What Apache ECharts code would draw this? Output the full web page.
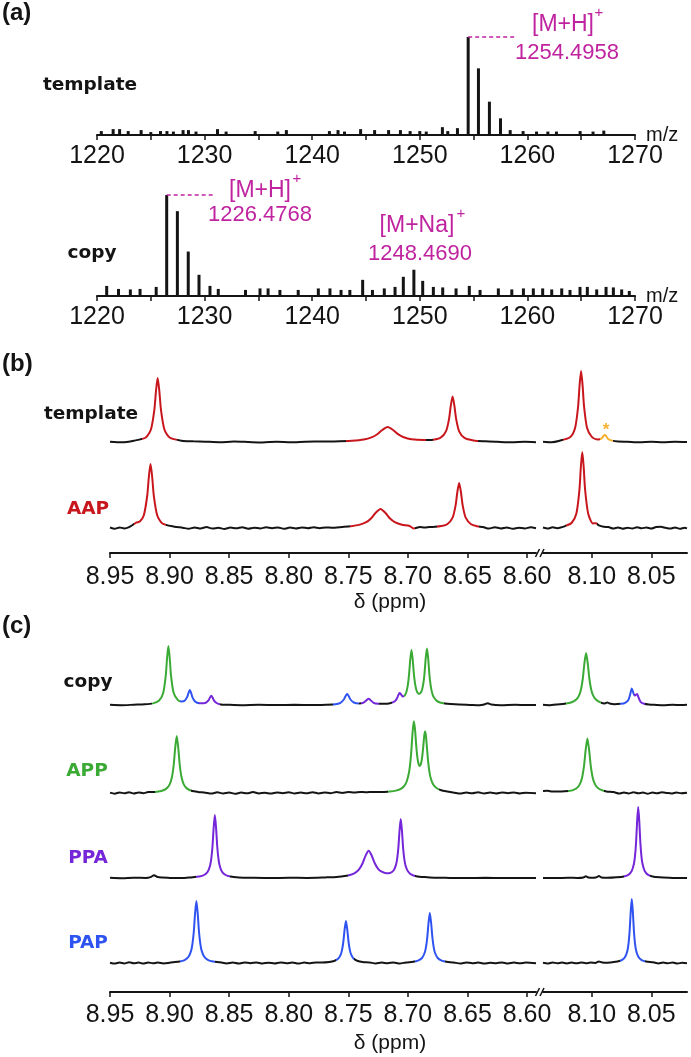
<!DOCTYPE html>
<html><head><meta charset="utf-8">
<script src="https://cdn.jsdelivr.net/npm/echarts@6.0.0/dist/echarts.min.js"></script>
<style>html,body{margin:0;padding:0;background:#fff}#c{width:691px;height:1057px}</style>
</head><body><div id="c"></div>
<script>
// ---------------- DATA ----------------
// (a) mass spectra: [m/z, relative intensity]
const msTickLabels = [1220, 1230, 1240, 1250, 1260, 1270];
const msTickValues = [1220, 1225, 1230, 1235, 1240, 1245, 1250, 1255, 1260, 1265, 1270];
const templateMS = [[1220.4,4],[1221.5,6],[1222.1,6],[1222.9,4],[1224.1,5],[1225.0,3],[1225.9,4],[1226.5,4],[1227.1,3.5],[1228.0,5],[1228.5,5],[1229.2,3.5],[1231.2,6],[1232.0,3.5],[1234.7,4],[1236.8,3.5],[1237.6,5],[1241.6,4],[1242.4,5],[1243.0,3.5],[1244.5,6],[1245.8,5],[1247.1,5],[1248.2,5],[1249.1,4],[1250.0,4],[1250.6,3.5],[1252.1,8],[1252.6,4],[1253.5,7],[1254.4958,100],[1255.45,68],[1256.47,34],[1257.5,17],[1258.4,5],[1259.6,4],[1260.85,3.5],[1261.9,3.5],[1262.7,3.5],[1264.9,4],[1266.1,3.5],[1267.1,4.5]];
const copyMS = [[1220.9,10],[1222.0,7],[1223.1,6.5],[1224.0,7],[1225.5,9],[1226.4768,100],[1227.47,84],[1228.48,44],[1229.48,21],[1230.5,10],[1231.27,7],[1233.8,6],[1235.15,7.5],[1235.9,7.5],[1237.0,6],[1238.7,6],[1240.57,7.5],[1241.65,7.5],[1242.68,6],[1243.5,6],[1244.69,16],[1245.6,6],[1246.7,7.5],[1247.7,9],[1248.469,19],[1249.45,26],[1250.27,15],[1251.26,9],[1252.13,8.5],[1253.37,7.5],[1254.6,10],[1255.6,6],[1257.3,7.5],[1258.55,6.5],[1259.63,7.5],[1260.55,7.5],[1261.42,7.5],[1262.26,6.5],[1263.19,7.5],[1263.96,6],[1264.89,9],[1265.57,9],[1266.44,6.5],[1267.31,9],[1267.99,8.5],[1268.76,6.5],[1269.47,5]];
const templateMSPeak = [1254.4958, 100];
const copyMSPeak = [1226.4768, 100];

// (b),(c) NMR: ticks and traces [ppm, intensity]
const nmrTicksLeft = [8.95, 8.90, 8.85, 8.80, 8.75, 8.70, 8.65, 8.60];
const nmrTicksRight = [8.10, 8.05];

const templateB = [[8.950,0.3],[8.940,-0.3],[8.930,1.3],[8.920,4.5],[8.9156,12.8],[8.9128,32],[8.9114,51],[8.910,64],[8.9086,51],[8.9072,32],[8.9044,12.8],[8.900,4.5],[8.890,1.3],[8.880,0.7],[8.870,0.3],[8.858,-0.2],[8.846,0.4],[8.834,0],[8.822,-0.4],[8.810,0.2],[8.798,-0.3],[8.786,0.3],[8.774,0.4],[8.762,0.6],[8.747,1.3],[8.737,2.5],[8.730,4.9],[8.726,7.5],[8.7215,12],[8.717,15],[8.7125,12],[8.708,7.6],[8.704,5.0],[8.697,2.7],[8.687,1.9],[8.680,2.1],[8.6725,4.3],[8.668,10.8],[8.6655,22.9],[8.664,36.4],[8.6625,45.4],[8.661,36.4],[8.6595,22.9],[8.657,10.7],[8.6525,4.1],[8.645,1.6],[8.635,0.7],[8.625,0.2],[8.613,-0.3],[8.602,0.2],[8.5925,-0.2],
[8.141,0.3],[8.134,-0.2],[8.127,1.3],[8.118,5.1],[8.114,14.2],[8.1115,35.5],[8.11025,56.8],[8.109,71],[8.10775,56.8],[8.1065,35.5],[8.104,14.2],[8.100,5.1],[8.095,2.6],[8.092,3.3],[8.090,6.3],[8.089,7.1],[8.088,6.1],[8.086,2.8],[8.083,1.4],[8.078,0.5],[8.070,0.2],[8.060,-0.3],[8.050,0.2],[8.040,-0.2],[8.030,0.3],[8.020,0]];
const templateBColors = [[8.923,8.894,'red'],[8.752,8.685,'red'],[8.679,8.641,'red'],[8.124,8.093,'red'],[8.093,8.082,'orange']];

const aapB = [[8.950,0.5],[8.946,-0.8],[8.942,0.6],[8.938,-0.4],[8.934,0.9],[8.930,3.8],[8.928,5.3],[8.925,6.5],[8.9216,12.8],[8.9188,32],[8.9174,51],[8.916,64],[8.9146,51],[8.9132,32],[8.9104,12.8],[8.906,4.5],[8.896,1.3],[8.889,0.3],[8.884,-0.8],[8.879,0.6],[8.874,-0.5],[8.869,0.9],[8.864,-0.6],[8.859,0.2],[8.854,-1.0],[8.849,0.5],[8.844,-0.3],[8.839,0.8],[8.834,-0.7],[8.829,0.3],[8.824,-0.5],[8.819,0.7],[8.814,-0.2],[8.809,0.5],[8.804,-0.8],[8.799,0.4],[8.794,-0.4],[8.789,0.6],[8.784,-0.3],[8.779,0.7],[8.774,-0.2],[8.769,0.5],[8.764,0.3],[8.755,1.1],[8.748,1.8],[8.741,3.1],[8.735,5.8],[8.731,9.5],[8.727,15.2],[8.723,19],[8.719,15.2],[8.715,9.5],[8.711,5.9],[8.705,3.3],[8.699,2.2],[8.695,-0.5],[8.690,1.0],[8.686,0.4],[8.682,1.0],[8.677,1.2],[8.672,1.9],[8.667,3.7],[8.6625,10.3],[8.660,22.5],[8.6585,36],[8.657,45],[8.6555,36],[8.654,22.5],[8.6515,10.3],[8.647,3.7],[8.642,1.7],[8.637,1.0],[8.632,-0.6],[8.627,0.8],[8.622,-0.4],[8.617,0.6],[8.612,-0.8],[8.607,0.3],[8.602,-0.5],[8.597,0.7],[8.5925,-0.2],
[8.141,0.5],[8.137,-0.6],[8.133,0.7],[8.129,-0.2],[8.125,0.9],[8.122,2.2],[8.117,5.0],[8.113,14.2],[8.1104,38],[8.1092,60.8],[8.108,76],[8.1068,60.8],[8.1056,38],[8.103,14.2],[8.099,4.6],[8.0965,4.8],[8.094,2.6],[8.090,1.3],[8.086,0.9],[8.082,-0.5],[8.078,0.6],[8.074,-0.7],[8.070,0.3],[8.066,-0.5],[8.062,0.8],[8.058,-0.3],[8.054,0.6],[8.050,-0.6],[8.046,0.9],[8.042,1.2],[8.038,0.2],[8.034,-0.5],[8.030,0.6],[8.026,-0.8],[8.022,0.3],[8.020,-0.4]];
const aapBColors = [[8.930,8.903,'red'],[8.749,8.694,'red'],[8.676,8.640,'red'],[8.122,8.096,'red']];

const copyC = [[8.950,0.2],[8.940,-0.2],[8.930,0.3],[8.921,0.7],[8.914,1.6],[8.909,4.2],[8.9054,11.8],[8.9032,29.5],[8.9021,47.2],[8.901,59],[8.8999,47.2],[8.8988,29.5],[8.8966,12.2],[8.893,4.9],[8.890,3.6],[8.8874,4.3],[8.8852,8.1],[8.8841,12.2],[8.883,14.9],[8.8819,12.0],[8.8808,7.7],[8.8786,3.6],[8.875,1.8],[8.8714,1.7],[8.8694,2.3],[8.8672,4.8],[8.8661,7.5],[8.865,9.2],[8.8639,7.4],[8.8628,4.7],[8.8606,2.0],[8.857,0.6],[8.852,0.3],[8.840,-0.2],[8.825,0.2],[8.810,-0.1],[8.795,0.2],[8.780,0.0],[8.769,0.3],[8.761,0.8],[8.7566,2.2],[8.7538,5.5],[8.7524,8.8],[8.751,11],[8.7496,8.8],[8.7482,5.5],[8.7454,2.5],[8.741,1.5],[8.7372,2.3],[8.7344,5.1],[8.733,6.3],[8.7316,5.1],[8.7288,2.2],[8.725,1.3],[8.720,1.2],[8.715,1.8],[8.711,3.8],[8.709,7.1],[8.708,10.0],[8.707,11.9],[8.706,11.0],[8.705,9.2],[8.704,8.6],[8.703,9.1],[8.702,10.9],[8.701,14.3],[8.700,20.4],[8.699,30.8],[8.698,45.7],[8.697,54.9],[8.696,46.0],[8.695,31.4],[8.694,21.3],[8.693,15.6],[8.692,12.6],[8.691,11.3],[8.690,11.4],[8.689,12.7],[8.688,15.8],[8.687,21.8],[8.686,32.2],[8.685,47.4],[8.684,56.5],[8.683,46.9],[8.682,31.2],[8.681,20.3],[8.680,13.6],[8.679,9.6],[8.678,7.2],[8.676,4.4],[8.673,2.5],[8.669,1.5],[8.664,0.9],[8.657,0.4],[8.648,0.1],[8.640,-0.2],[8.636,0.5],[8.633,1.8],[8.630,0.4],[8.622,-0.2],[8.610,0.2],[8.600,-0.1],[8.5925,0.1],
[8.141,0.2],[8.135,-0.2],[8.130,0.6],[8.1228,1.25],[8.1168,2.7],[8.1128,5.7],[8.1104,10.4],[8.109,16],[8.1076,26],[8.1062,41.6],[8.1048,52],[8.1034,41.6],[8.102,26],[8.1006,16],[8.0992,10.4],[8.0968,5.7],[8.0928,2.7],[8.089,1.6],[8.087,2.6],[8.085,1.5],[8.081,0.8],[8.0754,1.2],[8.0724,1.9],[8.0694,4.8],[8.0679,9.9],[8.0664,16.6],[8.0649,11.4],[8.0639,9.4],[8.0629,10.3],[8.062,11.1],[8.061,8.4],[8.059,3.2],[8.056,1.2],[8.052,0.5],[8.046,0.1],[8.040,-0.2],[8.032,0.2],[8.025,-0.1],[8.020,0.2]];
const copyCColors = [[8.915,8.891,'green'],[8.891,8.875,'blue'],[8.875,8.858,'purple'],[8.763,8.741,'blue'],[8.739,8.724,'purple'],[8.713,8.7035,'purple'],[8.7035,8.670,'green'],[8.122,8.092,'green'],[8.076,8.0642,'blue'],[8.0642,8.055,'purple']];

const appC = [[8.950,0.4],[8.946,-0.7],[8.942,0.6],[8.938,-0.3],[8.934,0.8],[8.930,-0.5],[8.926,0.5],[8.922,-0.2],[8.918,1.0],[8.912,1.1],[8.907,2.0],[8.903,4.1],[8.900,8.4],[8.898,16],[8.8965,28.5],[8.89525,45.6],[8.894,57],[8.89275,45.6],[8.8915,28.5],[8.890,16],[8.888,8.4],[8.885,4.1],[8.881,2.0],[8.876,1.1],[8.870,0.3],[8.865,-0.6],[8.860,0.7],[8.855,-0.4],[8.850,0.5],[8.845,-0.8],[8.840,0.4],[8.835,-0.3],[8.830,0.9],[8.825,-0.5],[8.820,0.3],[8.815,-0.6],[8.810,0.6],[8.805,-0.2],[8.800,0.7],[8.795,-0.5],[8.790,0.4],[8.785,-0.3],[8.780,0.8],[8.775,-0.4],[8.770,0.5],[8.765,-0.2],[8.760,0.9],[8.755,0.1],[8.750,1.0],[8.745,0.4],[8.740,1.1],[8.735,0.7],[8.730,1.1],[8.725,0.9],[8.720,1.0],[8.715,1.4],[8.710,2.4],[8.706,4.1],[8.703,7.2],[8.701,11.5],[8.699,21.0],[8.698,30.1],[8.697,44.1],[8.696,61.7],[8.695,71.7],[8.694,63.1],[8.693,47.2],[8.692,35.2],[8.691,28.9],[8.690,27.0],[8.689,29.4],[8.688,36.2],[8.687,47.9],[8.6862,58.0],[8.6855,61.4],[8.6848,56.7],[8.684,45.2],[8.683,31.3],[8.682,21.7],[8.681,15.5],[8.679,8.9],[8.676,5.0],[8.672,2.7],[8.667,1.5],[8.661,0.3],[8.656,-0.6],[8.651,0.5],[8.646,-0.3],[8.641,0.7],[8.636,-0.5],[8.631,0.4],[8.626,-0.4],[8.621,0.6],[8.616,-0.2],[8.611,0.5],[8.606,-0.5],[8.601,0.3],[8.5925,-0.2],
[8.141,2.0],[8.137,2.2],[8.133,1.5],[8.129,1.6],[8.1257,1.5],[8.1197,1.9],[8.1157,2.8],[8.1117,5.9],[8.1093,10.9],[8.1079,16.8],[8.1065,27.3],[8.1051,43.6],[8.1037,54.5],[8.1023,43.6],[8.1009,27.3],[8.0995,16.8],[8.0981,10.9],[8.0957,5.9],[8.0917,2.8],[8.0877,1.6],[8.0817,0.9],[8.077,-0.6],[8.073,0.5],[8.069,-0.4],[8.065,0.7],[8.061,-0.3],[8.057,0.5],[8.053,-0.7],[8.049,0.4],[8.045,-0.2],[8.041,0.8],[8.037,0.1],[8.033,-0.5],[8.029,0.6],[8.025,-0.3],[8.020,0.2]];
const appCColors = [[8.912,8.882,'green'],[8.717,8.674,'green'],[8.1197,8.0897,'green']];

const ppaC = [[8.950,0.2],[8.940,-0.2],[8.930,0.3],[8.920,0.1],[8.916,0.9],[8.913,2.8],[8.910,0.9],[8.900,0.1],[8.890,-0.1],[8.882,0.6],[8.875,1.4],[8.871,3.0],[8.868,6.3],[8.866,12.6],[8.865,19.4],[8.864,31.5],[8.863,50.4],[8.862,63],[8.861,50.4],[8.860,31.5],[8.859,19.4],[8.858,12.6],[8.856,6.3],[8.853,3.0],[8.849,1.4],[8.842,0.6],[8.830,0.2],[8.815,-0.1],[8.800,0.2],[8.785,0.1],[8.772,0.4],[8.768,0.65],[8.760,1.1],[8.753,1.9],[8.748,3.2],[8.744,5.4],[8.741,8.6],[8.738,14.8],[8.7355,22.4],[8.733,27.3],[8.7305,22.8],[8.728,15.3],[8.725,9.2],[8.722,6.3],[8.718,4.8],[8.715,5.0],[8.712,7.5],[8.710,13.1],[8.709,19.3],[8.708,30.3],[8.707,47.6],[8.706,59.1],[8.705,47.4],[8.704,29.9],[8.703,18.8],[8.702,12.5],[8.700,6.7],[8.697,3.3],[8.693,1.8],[8.686,0.9],[8.678,0.3],[8.665,0.1],[8.650,-0.1],[8.635,0.2],[8.620,0.0],[8.605,0.1],[8.5925,0.0],
[8.141,0.1],[8.130,-0.1],[8.120,0.2],[8.112,0.1],[8.107,0.6],[8.105,1.8],[8.103,0.6],[8.098,0.3],[8.096,0.7],[8.094,1.9],[8.092,0.6],[8.087,0.2],[8.079,0.7],[8.073,1.6],[8.069,3.4],[8.0664,7.1],[8.0646,14.2],[8.0637,21.9],[8.0628,35.5],[8.0619,56.8],[8.061,71],[8.0601,56.8],[8.0592,35.5],[8.0583,21.9],[8.0574,14.2],[8.0556,7.1],[8.053,3.4],[8.049,1.6],[8.043,0.7],[8.035,0.2],[8.027,-0.1],[8.020,0.1]];
const ppaCColors = [[8.878,8.849,'purple'],[8.750,8.694,'purple'],[8.073,8.051,'purple']];

const papC = [[8.950,0.3],[8.946,-0.6],[8.942,0.5],[8.938,-0.4],[8.934,0.7],[8.930,-0.3],[8.926,0.4],[8.922,-0.6],[8.918,0.5],[8.914,-0.3],[8.910,0.4],[8.905,-0.4],[8.900,0.3],[8.8975,0.7],[8.8915,1.5],[8.8874,2.9],[8.8841,6.2],[8.8819,12.4],[8.8808,19.1],[8.8797,31],[8.8786,49.6],[8.8775,62],[8.8764,49.6],[8.8753,31],[8.8742,19.1],[8.8731,12.4],[8.8709,6.2],[8.8676,2.9],[8.8635,1.5],[8.8575,0.7],[8.852,-0.5],[8.847,0.4],[8.842,-0.6],[8.837,0.5],[8.832,-0.2],[8.827,0.6],[8.822,-0.5],[8.817,0.3],[8.812,-0.4],[8.807,0.6],[8.802,-0.3],[8.797,0.5],[8.792,-0.6],[8.787,0.4],[8.782,-0.2],[8.777,0.5],[8.772,0.5],[8.766,1.0],[8.7619,2.0],[8.7586,4.2],[8.7564,8.4],[8.7553,12.9],[8.7542,21],[8.7531,33.6],[8.752,42],[8.7509,33.6],[8.7498,21],[8.7487,12.9],[8.7476,8.4],[8.7454,4.2],[8.7421,2.0],[8.738,1.0],[8.732,0.5],[8.727,-0.4],[8.722,0.5],[8.717,-0.3],[8.712,0.6],[8.707,-0.5],[8.7016,0.6],[8.6956,1.2],[8.6915,2.4],[8.6882,5.0],[8.686,10],[8.6849,15.4],[8.6838,25],[8.6827,40],[8.6816,50],[8.6805,40],[8.6794,25],[8.6783,15.4],[8.6772,10],[8.675,5.0],[8.6717,2.4],[8.6676,1.2],[8.6616,0.6],[8.656,-0.5],[8.651,0.6],[8.646,-0.3],[8.641,0.5],[8.636,-0.6],[8.631,0.3],[8.626,-0.2],[8.621,0.6],[8.616,-0.5],[8.611,0.4],[8.606,-0.3],[8.601,0.5],[8.5925,-0.2],
[8.141,0.3],[8.137,-0.5],[8.133,0.6],[8.129,-0.3],[8.125,0.5],[8.121,-0.4],[8.117,0.4],[8.113,-0.3],[8.109,0.5],[8.105,-0.2],[8.101,0.4],[8.097,0.1],[8.094,1.6],[8.092,0.8],[8.088,0.2],[8.084,0.6],[8.0784,1.4],[8.0744,3.1],[8.0718,6.4],[8.070,12.8],[8.0691,19.7],[8.0682,32],[8.0673,51.2],[8.0664,64],[8.0655,51.2],[8.0646,32],[8.0637,19.7],[8.0628,12.8],[8.061,6.4],[8.0584,3.1],[8.0544,1.4],[8.0484,0.7],[8.044,-0.4],[8.040,0.5],[8.036,-0.3],[8.032,0.6],[8.028,-0.5],[8.024,0.3],[8.020,-0.2]];
const papCColors = [[8.891,8.862,'blue'],[8.760,8.745,'blue'],[8.694,8.669,'blue'],[8.076,8.055,'blue']];

// ---------------- STYLE / LAYOUT ----------------
const INK = '#141414';
const MAGENTA = '#c0239f';
const COLORS = {red:'#c8161d', green:'#3aaa35', purple:'#7426d8', blue:'#2f53f0', orange:'#f6b12e'};
const TICK_FONT = "'Liberation Sans',Arial,sans-serif";
const LABEL_FONT = "'DejaVu Sans',sans-serif";

const grids = [], xAxes = [], yAxes = [], series = [], visualMaps = [], graphics = [];
function addGrid(g, x, y) {
  g.containLabel = false; g.outerBoundsMode = 'none';
  grids.push(g);
  const i = grids.length - 1;
  x.gridIndex = i; y.gridIndex = i;
  xAxes.push(x); yAxes.push(y);
  return i;
}

// ---- (a) mass spectra ----
function msXAxis() {
  return {
    type: 'value', min: 1220, max: 1270, interval: 5,
    name: 'm/z', nameLocation: 'end', nameGap: 11, nameMoveOverlap: false,
    nameTextStyle: {fontSize: 20, color: INK, fontFamily: "'Liberation Sans',Arial", verticalAlign: 'middle', align: 'left'},
    axisLine: {show: true, onZero: false, lineStyle: {color: INK, width: 2}},
    axisTick: {show: true, inside: false, length: 5, customValues: msTickValues, lineStyle: {color: INK, width: 1.5}},
    axisLabel: {show: true, customValues: msTickLabels, formatter: function (v) { return String(v); },
      fontSize: 25, margin: 9, color: INK, fontFamily: TICK_FONT, hideOverlap: false},
    splitLine: {show: false}, minorTick: {show: false}
  };
}
function msPanel(data, peak, top, height, dashEnd) {
  const gi = addGrid({left: 97, width: 538, top: top, height: height}, msXAxis(),
    {type: 'value', min: 0, max: 100, show: false});
  series.push({
    type: 'bar', xAxisIndex: gi, yAxisIndex: gi, data: data, barWidth: 3,
    itemStyle: {color: INK}, silent: true, animation: false,
    markLine: {
      silent: true, symbol: ['none', 'none'], animation: false,
      label: {show: false},
      lineStyle: {type: [4, 3], color: MAGENTA, width: 1.5},
      data: [[{coord: [peak[0], peak[1]]}, {coord: [dashEnd, peak[1]]}]]
    }
  });
}
msPanel(templateMS, templateMSPeak, 37, 98, 1258.85);
msPanel(copyMS, copyMSPeak, 195, 101, 1230.8);

// ---- (b), (c) NMR ----
const SIDES = [
  {left: 110, width: 426, min: 8.5925, max: 8.95, ticks: nmrTicksLeft},
  {left: 543, width: 144, min: 8.02, max: 8.141, ticks: nmrTicksRight}
];
const TOPROOM = 90;
function nmrPanel(traces, axisY, labelMargin) {
  traces.forEach(function (tr, k) {
    const isBottom = k === traces.length - 1;
    const D = isBottom ? axisY - tr.base : 12;
    SIDES.forEach(function (s) {
      const gi = addGrid({left: s.left, width: s.width, top: tr.base - TOPROOM, height: TOPROOM + D}, {
        type: 'value', min: s.min, max: s.max, inverse: true, show: isBottom,
        axisLine: {show: true, onZero: false, lineStyle: {color: INK, width: 2}},
        axisTick: {show: true, inside: false, length: 5, customValues: s.ticks, lineStyle: {color: INK, width: 1.5}},
        axisLabel: {show: true, customValues: s.ticks, formatter: function (v) { return v.toFixed(2); },
          fontSize: 25, margin: labelMargin, color: INK, fontFamily: TICK_FONT, hideOverlap: false},
        splitLine: {show: false}
      }, {type: 'value', min: -D, max: TOPROOM, show: false});
      const pts = tr.data.filter(function (p) { return p[0] >= s.min - 1e-9 && p[0] <= s.max + 1e-9; })
        .slice().sort(function (a, b) { return b[0] - a[0]; });
      const si = series.length;
      series.push({
        type: 'line', xAxisIndex: gi, yAxisIndex: gi, data: pts, showSymbol: false, symbol: 'none',
        smooth: 0.25, color: INK, lineStyle: {width: 2}, silent: true, animation: false
      });
      const pieces = tr.colors.filter(function (c) {
        const lo = Math.min(c[0], c[1]), hi = Math.max(c[0], c[1]);
        return hi >= s.min && lo <= s.max;
      }).map(function (c) {
        return {gte: Math.min(c[0], c[1]), lte: Math.max(c[0], c[1]), color: COLORS[c[2]]};
      }).sort(function (a, b) { return a.gte - b.gte; });
      if (pieces.length) {
        visualMaps.push({type: 'piecewise', show: false, dimension: 0, seriesIndex: si,
          pieces: pieces, outOfRange: {color: INK}});
      }
    });
  });
}
nmrPanel([
  {data: templateB, colors: templateBColors, base: 442},
  {data: aapB, colors: aapBColors, base: 528}
], 553, 12);
nmrPanel([
  {data: copyC, colors: copyCColors, base: 705},
  {data: appC, colors: appCColors, base: 793},
  {data: ppaC, colors: ppaCColors, base: 878},
  {data: papC, colors: papCColors, base: 963}
], 992, 11);

// ---- text & decorations ----
function txt(t, x, y, font, color, align) {
  graphics.push({type: 'text', x: x, y: y, silent: true, style: {
    text: t, font: font, fill: color || INK,
    textAlign: align || 'center', textVerticalAlign: 'middle', align: align || 'center', verticalAlign: 'middle'}});
}
const PANEL_FONT = "bold 24px 'Liberation Sans',Arial,sans-serif";
txt('(a)', 2, 13, PANEL_FONT, INK, 'left');
txt('(b)', 2, 364, PANEL_FONT, INK, 'left');
txt('(c)', 2, 626, PANEL_FONT, INK, 'left');
const TRACE_FONT = "bold 18.5px " + LABEL_FONT;
txt('template', 90, 85, TRACE_FONT);
txt('copy', 92, 253, TRACE_FONT);
txt('template', 91, 414, TRACE_FONT);
txt('AAP', 88, 509, TRACE_FONT, COLORS.red);
txt('copy', 88, 682, TRACE_FONT);
txt('APP', 87, 771, TRACE_FONT, COLORS.green);
txt('PPA', 88, 858, TRACE_FONT, COLORS.purple);
txt('PAP', 88, 943, TRACE_FONT, COLORS.blue);
const AX_FONT = "21px 'Liberation Sans',Arial,sans-serif";
txt('δ (ppm)', 390, 602, AX_FONT);
txt('δ (ppm)', 390, 1043, AX_FONT);
const ANN = "23px 'Liberation Sans',Arial,sans-serif";
const ANN2 = "22px 'Liberation Sans',Arial,sans-serif";
const SUP = "15px 'Liberation Sans',Arial,sans-serif";
txt('[M+H]', 563, 25, ANN, MAGENTA);
txt('+', 599, 13, SUP, MAGENTA);
txt('1254.4958', 567, 53, ANN2, MAGENTA);
txt('[M+H]', 260, 191, ANN, MAGENTA);
txt('+', 297, 179, SUP, MAGENTA);
txt('1226.4768', 260, 215, ANN2, MAGENTA);
txt('[M+Na]', 417, 226, ANN, MAGENTA);
txt('+', 461, 214, SUP, MAGENTA);
txt('1248.4690', 420, 254, ANN2, MAGENTA);
txt('*', 606, 430, "bold 17px 'Liberation Sans',Arial", COLORS.orange);
// axis break marks
[553, 992].forEach(function (ay) {
  [0, 4.5].forEach(function (dx) {
    graphics.push({type: 'line', silent: true,
      shape: {x1: 535.5 + dx, y1: ay + 4, x2: 539.5 + dx, y2: ay - 4},
      style: {stroke: INK, lineWidth: 1.5}});
  });
});

const chart = echarts.init(document.getElementById('c'), null, {renderer: 'canvas', width: 691, height: 1057});
chart.setOption({
  animation: false,
  backgroundColor: '#ffffff',
  grid: grids, xAxis: xAxes, yAxis: yAxes, series: series,
  visualMap: visualMaps, graphic: graphics
});
</script></body></html>
